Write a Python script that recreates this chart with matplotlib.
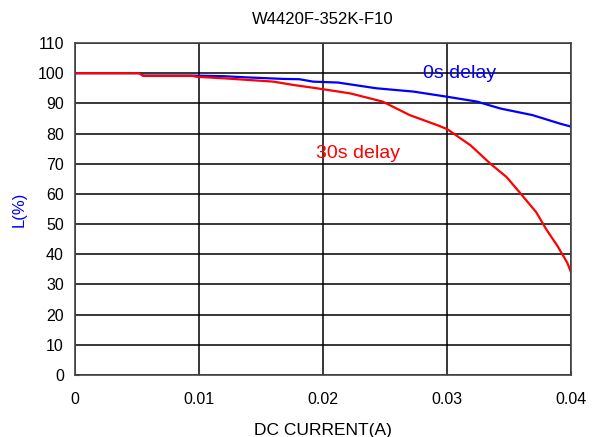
import numpy as np
import matplotlib
matplotlib.use('Agg')
import matplotlib.pyplot as plt

plt.rcParams['font.family'] = ['Liberation Sans', 'DejaVu Sans']

# 0s delay curve (blue)
x_0s = [0.0, 0.0052, 0.0055, 0.0095, 0.0120, 0.0139, 0.0168, 0.0181, 0.0192,
        0.0212, 0.0243, 0.0273, 0.0300, 0.0324, 0.0343, 0.0369, 0.0391, 0.0400]
y_0s = [100.0, 100.0, 99.2, 99.2, 99.0, 98.6, 98.1, 98.0, 97.2,
        96.9, 95.0, 93.9, 92.2, 90.6, 88.3, 86.1, 83.3, 82.3]

# 30s delay curve (red)
x_30s = [0.0, 0.0052, 0.0055, 0.0095, 0.0098, 0.0120, 0.0160, 0.0176, 0.0195,
         0.0222, 0.0248, 0.0270, 0.0292, 0.0300, 0.0319, 0.0335, 0.0348,
         0.0359, 0.0372, 0.0380, 0.0389, 0.0397, 0.0400]
y_30s = [100.0, 100.0, 99.1, 99.1, 98.8, 98.3, 97.2, 96.1, 95.0,
         93.3, 90.6, 86.1, 82.8, 81.5, 76.1, 70.0, 65.6,
         60.3, 53.9, 48.3, 42.8, 37.2, 34.0]

xticks = [0, 0.01, 0.02, 0.03, 0.04]
xtick_labels = ['0', '0.01', '0.02', '0.03', '0.04']
yticks = list(range(0, 111, 10))

fig = plt.figure(figsize=(5.93, 4.37), dpi=100)
ax = fig.add_axes([75 / 593, 1 - 375 / 437, 496 / 593, 332 / 437])

ax.plot(x_0s, y_0s, color='#0000ff', lw=1.6)
ax.plot(x_30s, y_30s, color='#ff0000', lw=1.6)

ax.set_xlim(0, 0.04)
ax.set_ylim(0, 110)
ax.set_xticks(xticks)
ax.set_xticklabels(xtick_labels)
ax.set_yticks(yticks)
ax.grid(True, color='black', lw=1.1)
ax.set_axisbelow(True)
for s in ax.spines.values():
    s.set_color('#444444')
    s.set_linewidth(1.2)
ax.tick_params(direction='in', length=3, labelsize=11.5, color='#444444')
ax.tick_params(axis='x', pad=12)
ax.tick_params(axis='y', pad=8)

ax.text(0.031, 99.8, '0s delay', color='#0000ff', fontsize=14, ha='center', va='center')
ax.text(0.0228, 73.3, '30s delay', color='#ff0000', fontsize=14, ha='center', va='center')

ax.set_title('W4420F-352K-F10', fontsize=12, pad=14)
ax.set_xlabel('DC CURRENT(A)', fontsize=12.5, labelpad=12)
ax.set_ylabel('L(%)', fontsize=12, color='#0000ff', labelpad=8)

fig.savefig('out.png', dpi=100)
